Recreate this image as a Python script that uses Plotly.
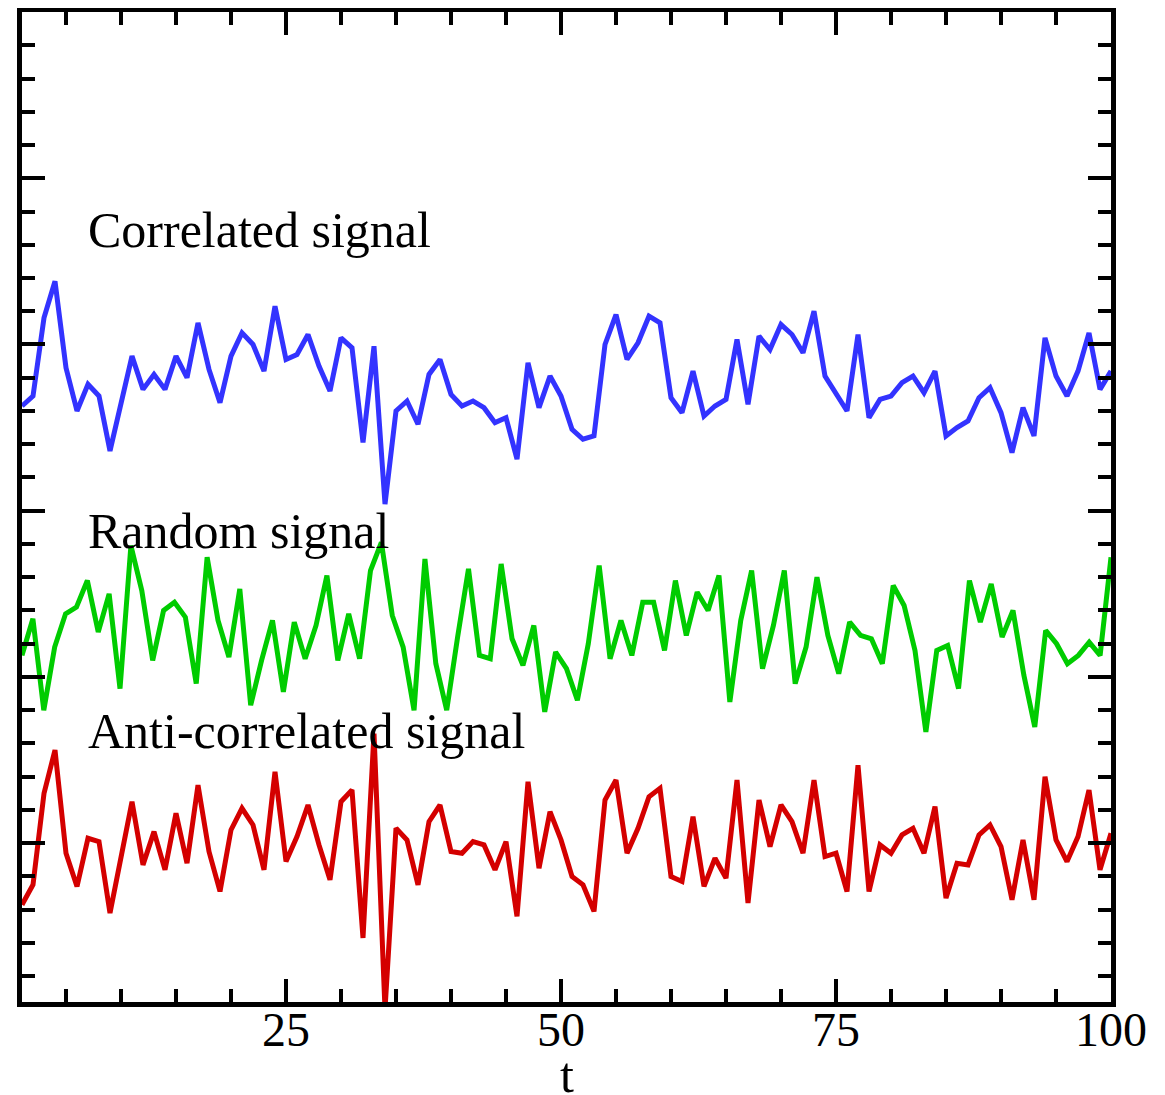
import numpy as np
import plotly.graph_objects as go

# ---- data ----
t_main = list(range(1, 101))

correlated = [
    3.63, 3.69, 4.16, 4.38, 3.86, 3.60, 3.76, 3.69, 3.36, 3.64,
    3.93, 3.73, 3.82, 3.73, 3.93, 3.80, 4.13, 3.85, 3.65, 3.93,
    4.07, 4.00, 3.84, 4.23, 3.91, 3.94, 4.06, 3.87, 3.72, 4.04,
    3.98, 3.41, 3.99, 3.04, 3.60, 3.66, 3.52, 3.82, 3.91, 3.70,
    3.63, 3.66, 3.62, 3.53, 3.56, 3.31, 3.89, 3.62, 3.81, 3.69,
    3.49, 3.43, 3.45, 4.00, 4.18, 3.91, 4.01, 4.17, 4.13, 3.68,
    3.59, 3.84, 3.57, 3.63, 3.67, 4.03, 3.64, 4.05, 3.97, 4.12,
    4.06, 3.95, 4.20, 3.81, 3.71, 3.60, 4.06, 3.56, 3.67, 3.69,
    3.77, 3.81, 3.71, 3.84, 3.45, 3.50, 3.54, 3.68, 3.74, 3.59,
    3.35, 3.62, 3.45, 4.04, 3.81, 3.69, 3.84, 4.07, 3.73, 3.84,
]

random_sig = [
    2.13, 2.35, 1.80, 2.18, 2.38, 2.42, 2.58, 2.27, 2.50, 1.93,
    2.79, 2.52, 2.10, 2.40, 2.45, 2.36, 1.96, 2.72, 2.34, 2.12,
    2.53, 1.83, 2.10, 2.34, 1.91, 2.33, 2.11, 2.31, 2.61, 2.10,
    2.38, 2.11, 2.64, 2.81, 2.37, 2.18, 1.80, 2.71, 2.08, 1.80,
    2.24, 2.65, 2.13, 2.11, 2.68, 2.23, 2.07, 2.31, 1.79, 2.15,
    2.05, 1.86, 2.20, 2.67, 2.11, 2.34, 2.13, 2.45, 2.45, 2.16,
    2.58, 2.25, 2.51, 2.40, 2.61, 1.85, 2.34, 2.64, 2.05, 2.31,
    2.64, 1.96, 2.18, 2.60, 2.25, 2.02, 2.33, 2.25, 2.23, 2.08,
    2.55, 2.43, 2.16, 1.67, 2.16, 2.19, 1.93, 2.58, 2.33, 2.56,
    2.24, 2.40, 2.01, 1.70, 2.28, 2.20, 2.08, 2.13, 2.21, 2.13,
    2.72,
]
t_random = np.linspace(1, 100, len(random_sig))

anti_correlated = [
    0.63, 0.75, 1.30, 1.56, 0.94, 0.74, 1.03, 1.01, 0.58, 0.92,
    1.25, 0.87, 1.07, 0.84, 1.18, 0.88, 1.35, 0.95, 0.71, 1.08,
    1.21, 1.11, 0.84, 1.43, 0.89, 1.04, 1.23, 0.99, 0.78, 1.25,
    1.32, 0.43, 1.66, 0.00, 1.09, 1.02, 0.75, 1.13, 1.23, 0.95,
    0.94, 1.01, 0.99, 0.84, 1.01, 0.56, 1.37, 0.85, 1.19, 1.02,
    0.80, 0.75, 0.59, 1.26, 1.38, 0.94, 1.09, 1.28, 1.33, 0.80,
    0.77, 1.16, 0.74, 0.91, 0.79, 1.38, 0.64, 1.26, 0.98, 1.23,
    1.13, 0.94, 1.38, 0.92, 0.94, 0.71, 1.47, 0.71, 0.99, 0.94,
    1.05, 1.09, 0.94, 1.22, 0.67, 0.88, 0.87, 1.05, 1.11, 0.98,
    0.66, 1.02, 0.66, 1.40, 1.02, 0.89, 1.04, 1.32, 0.84, 1.06,
]

labels = ["Correlated signal", "Random signal", "Anti-correlated signal"]
label_y = [4.69, 2.88, 1.675]
label_x = 6.85
x_ticks = [25, 50, 75, 100]
x_title = "t"

FONT = "Liberation Serif, Times New Roman, serif"

fig = go.Figure()
fig.add_trace(go.Scatter(x=t_main, y=correlated, mode="lines",
                         line=dict(color="#3333ff", width=5), showlegend=False))
fig.add_trace(go.Scatter(x=t_random, y=random_sig, mode="lines",
                         line=dict(color="#00cc00", width=5), showlegend=False))
fig.add_trace(go.Scatter(x=t_main, y=anti_correlated, mode="lines",
                         line=dict(color="#d40000", width=5), showlegend=False))

for txt, yy in zip(labels, label_y):
    fig.add_annotation(x=label_x, y=yy, text=txt, showarrow=False,
                       xanchor="left", yanchor="middle",
                       font=dict(family=FONT, size=50, color="black"))

# axis title "t" placed just under the tick labels
fig.add_annotation(x=0.5, y=-0.074, xref="paper", yref="paper", text=x_title,
                   showarrow=False, xanchor="center", yanchor="middle",
                   font=dict(family=FONT, size=50, color="black"))

axis_common = dict(
    showline=True, linecolor="black", linewidth=5, mirror="allticks",
    ticks="inside", ticklen=23, tickwidth=4, tickcolor="black",
    showgrid=False, zeroline=False,
)

fig.update_xaxes(
    range=[1, 100], tickmode="array", tickvals=x_ticks,
    ticktext=[str(v) for v in x_ticks],
    tickfont=dict(family=FONT, size=48, color="black"),
    ticklabelstandoff=-19,
    minor=dict(dtick=5, tick0=0, ticks="inside", ticklen=13, tickwidth=4,
               tickcolor="black", showgrid=False),
    **axis_common,
)
fig.update_yaxes(
    range=[0.045, 6.0], tickmode="linear", tick0=0, dtick=1,
    showticklabels=False,
    minor=dict(dtick=0.2, tick0=0, ticks="inside", ticklen=13, tickwidth=4,
               tickcolor="black", showgrid=False),
    **axis_common,
)

# the page body has an 8px default margin, so the figure is made 8px smaller
fig.update_layout(
    width=1157, height=1087,
    margin=dict(l=14, r=54, t=4, b=93, autoexpand=False),
    paper_bgcolor="white", plot_bgcolor="white",
    font=dict(family=FONT, color="black"),
)

fig.write_html("out.html")
